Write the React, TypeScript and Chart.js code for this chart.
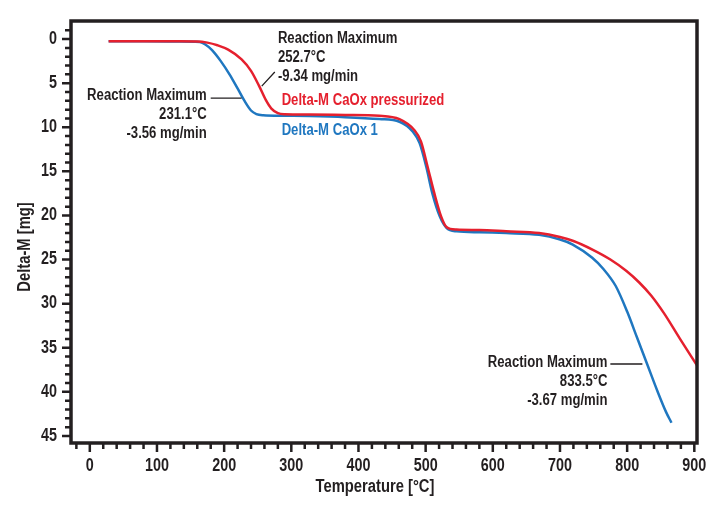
import React, { useEffect, useRef } from "react";
import { Chart, registerables } from "chart.js";

Chart.register(...registerables);

// ---- Data ----
const tempCaOx1 = [28, 80, 130, 156, 164, 172, 182, 195, 208, 220, 231, 240, 248, 258, 290, 327, 380, 431, 461, 481, 491, 501, 510, 521, 531, 546, 580, 620, 669, 699, 719, 748, 765, 783, 800, 815, 830, 845, 858, 866];
const massCaOx1 = [0.25, 0.25, 0.27, 0.29, 0.33, 0.62, 1.25, 2.5, 4.0, 5.6, 7.1, 8.1, 8.5, 8.63, 8.69, 8.73, 8.85, 9.07, 9.37, 10.5, 11.8, 14.5, 17.5, 20.1, 21.4, 21.8, 21.9, 22.0, 22.2, 22.7, 23.3, 24.8, 26.1, 28.0, 30.9, 33.9, 36.9, 39.9, 42.3, 43.5];

const tempCaOxP = [28, 80, 130, 160, 175, 190, 206, 226, 240, 252, 262, 270, 280, 290, 327, 380, 431, 461, 483, 493, 503, 513, 523, 531, 546, 580, 620, 669, 700, 720, 749, 775, 799, 818, 836, 855, 878, 904];
const massCaOxP = [0.25, 0.25, 0.26, 0.27, 0.4, 0.7, 1.2, 2.3, 3.6, 5.3, 6.9, 7.85, 8.4, 8.52, 8.55, 8.6, 8.69, 9.07, 10.3, 11.6, 14.5, 17.5, 20.1, 21.3, 21.6, 21.65, 21.8, 22.0, 22.45, 22.9, 23.9, 25.0, 26.3, 27.6, 29.1, 31.1, 33.9, 37.0];

const seriesNames = ["Delta-M CaOx pressurized", "Delta-M CaOx 1"];
const xTickLabels = ["0", "100", "200", "300", "400", "500", "600", "700", "800", "900"];
const yTickLabels = ["0", "5", "10", "15", "20", "25", "30", "35", "40", "45"];
const xTitle = "Temperature [°C]";
const yTitle = "Delta-M [mg]";

const annotBlueLow = ["Reaction Maximum", "231.1°C", "-3.56 mg/min"];
const annotRedLow = ["Reaction Maximum", "252.7°C", "-9.34 mg/min"];
const annotBlueHigh = ["Reaction Maximum", "833.5°C", "-3.67 mg/min"];

// ---- Styles ----
const RED = "#e5202e";
const BLUE = "#1f77c0";
const INK = "#231f20";
const FONT = "'Liberation Sans', Arial, Helvetica, sans-serif";
const NARROW = 0.82;

const overlay = {
  id: "overlay",
  afterDraw(chart: any) {
    const ctx = chart.ctx as CanvasRenderingContext2D;
    const xs = chart.scales.x;
    const ys = chart.scales.y;
    const a = chart.chartArea;
    const X = (v: number) => xs.getPixelForValue(v);
    const Y = (v: number) => ys.getPixelForValue(v);

    const txt = (s: string, x: number, y: number, align: CanvasTextAlign, size: number, color: string, rot = 0) => {
      ctx.save();
      ctx.translate(x, y);
      if (rot) ctx.rotate(rot);
      ctx.scale(NARROW, 1);
      ctx.font = `bold ${size}px ${FONT}`;
      ctx.textAlign = align;
      ctx.textBaseline = "middle";
      ctx.fillStyle = color;
      ctx.fillText(s, 0, 0);
      ctx.restore();
    };

    ctx.save();

    // frame
    ctx.strokeStyle = INK;
    ctx.lineWidth = 3.5;
    ctx.strokeRect(a.left, a.top, a.right - a.left, a.bottom - a.top);

    // ticks
    ctx.lineWidth = 2.5;
    ctx.beginPath();
    for (let v = -20; v <= 900; v += 20) {
      const px = X(v);
      const major = v % 100 === 0;
      ctx.moveTo(px, a.bottom);
      ctx.lineTo(px, a.bottom + (major ? 9 : 6));
    }
    for (let v = -1; v <= 45; v += 1) {
      const py = Y(v);
      const major = v % 5 === 0;
      ctx.moveTo(a.left, py);
      ctx.lineTo(a.left - (major ? 9 : 6), py);
    }
    ctx.stroke();

    // tick labels
    xTickLabels.forEach((l) => txt(l, X(Number(l)), a.bottom + 23, "center", 17.5, INK));
    yTickLabels.forEach((l) => txt(l, a.left - 14, Y(Number(l)), "right", 17.5, INK));

    // axis titles
    txt(xTitle, (a.left + a.right) / 2 - 9, a.bottom + 44, "center", 18, INK);
    txt(yTitle, 25, (a.top + a.bottom) / 2 + 15, "center", 18, INK, -Math.PI / 2);

    // annotations
    const block = (lines: string[], x: number, y: number, align: CanvasTextAlign) => {
      lines.forEach((l, i) => txt(l, X(x), Y(y) + i * 19, align, 16, INK));
    };
    block(annotBlueLow, 174, 6.46, "right");
    block(annotRedLow, 280, 0, "left");
    block(annotBlueHigh, 770.6, 36.73, "right");

    ctx.strokeStyle = INK;
    ctx.lineWidth = 1.3;
    ctx.beginPath();
    ctx.moveTo(X(180), Y(6.69));
    ctx.lineTo(X(226), Y(6.69));
    ctx.moveTo(X(256), Y(5.33));
    ctx.lineTo(X(275.4), Y(3.74));
    ctx.moveTo(X(775), Y(36.84));
    ctx.lineTo(X(822.7), Y(36.84));
    ctx.stroke();

    // series labels
    txt(seriesNames[0], X(285.6), Y(7.03), "left", 16, RED);
    txt(seriesNames[1], X(285.6), Y(10.43), "left", 16, BLUE);

    ctx.restore();
  },
};

export default function App() {
  const ref = useRef<HTMLCanvasElement | null>(null);
  useEffect(() => {
    document.body.style.margin = "0";
    const canvas = ref.current;
    if (!canvas) return;
    const chart = new Chart(canvas, {
      type: "line",
      data: {
        datasets: [
          {
            label: seriesNames[0],
            data: tempCaOxP.map((t, i) => ({ x: t, y: massCaOxP[i] })),
            borderColor: RED,
            borderWidth: 2.5,
            pointRadius: 0,
            cubicInterpolationMode: "monotone",
            fill: false,
          },
          {
            label: seriesNames[1],
            data: tempCaOx1.map((t, i) => ({ x: t, y: massCaOx1[i] })),
            borderColor: BLUE,
            borderWidth: 2.5,
            pointRadius: 0,
            cubicInterpolationMode: "monotone",
            fill: false,
          },
        ],
      },
      options: {
        animation: false,
        responsive: false,
        devicePixelRatio: 1,
        layout: { padding: { top: 21, right: 20, left: 0, bottom: 0 } },
        plugins: { legend: { display: false }, tooltip: { enabled: false } },
        scales: {
          x: {
            type: "linear",
            min: -28,
            max: 904,
            ticks: { display: false },
            grid: { display: false },
            border: { display: false },
            afterFit: (s: any) => {
              s.height = 62;
            },
          },
          y: {
            type: "linear",
            reverse: true,
            min: -2.05,
            max: 45.8,
            ticks: { display: false },
            grid: { display: false },
            border: { display: false },
            afterFit: (s: any) => {
              s.width = 71;
            },
          },
        },
      },
      plugins: [overlay],
    });
    return () => chart.destroy();
  }, []);
  return (
    <div style={{ width: 717, height: 505 }}>
      <canvas ref={ref} width={717} height={505} />
    </div>
  );
}
